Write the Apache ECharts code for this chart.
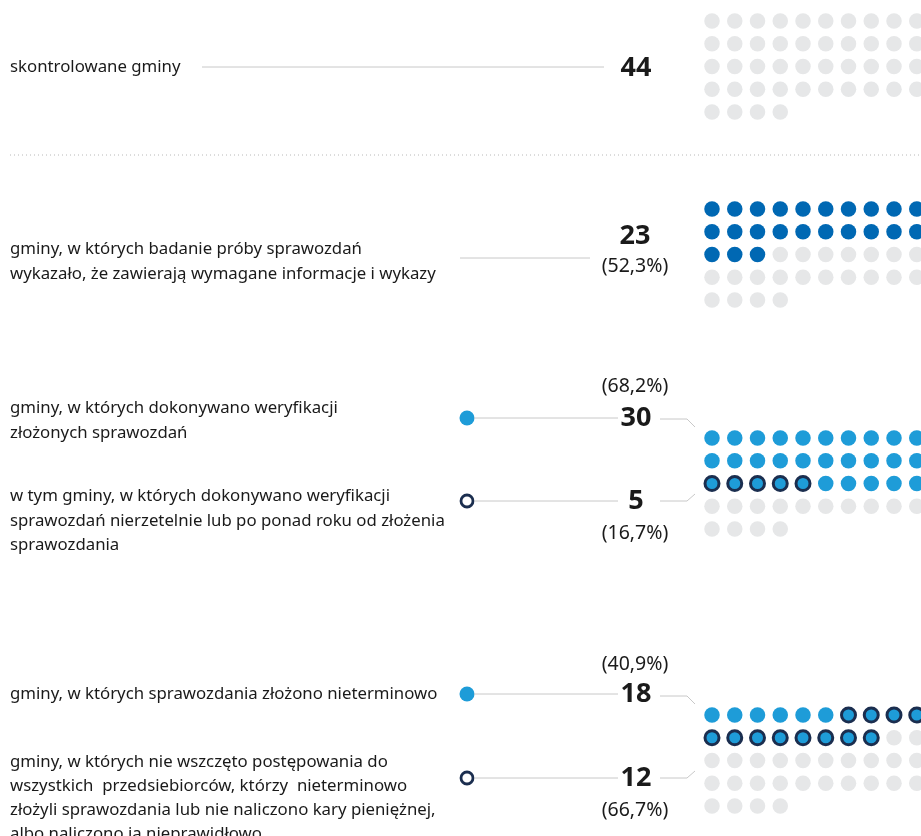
<!DOCTYPE html>
<html>
<head>
<meta charset="utf-8">
<script src="https://cdn.jsdelivr.net/npm/echarts@6/dist/echarts.min.js"></script>
<style>
  html, body { margin: 0; padding: 0; background: #fff; }
  #chart { width: 921px; height: 836px; }
</style>
</head>
<body>
<div id="chart"></div>
<script>
// dane
const total = 44;
const counts = [44, 23, 30, 18];          // wypełnione kropki w każdym panelu
const outlined = [0, 0, 5, 12];           // z tego kropki z obwódką
const outlineFrom = [0, 0, 20, 6];        // od której kropki zaczyna się obwódka
const percents = ['', '(52,3%)', '(68,2%)', '(40,9%)'];
const subPercents = ['', '', '(16,7%)', '(66,7%)'];
const fillColors = ['#e6e7e8', '#0068b3', '#1e9cd8', '#1e9cd8'];
const perRow = 10;

const FONT = '"Noto Sans", sans-serif';
const GRAY = '#e6e7e8', NAVY = '#1b2e4f', LINE = '#c8c8c8', TXT = '#1a1a1a';
const LBL = 16.8, PCT = 19.5, NUM = 27;

const chart = echarts.init(document.getElementById('chart'));

// położenie paneli (górny wiersz kropek)
const gridTops = [21, 209, 438, 715];
const step = 22.75;

const grids = [], xAxes = [], yAxes = [], series = [];
gridTops.forEach(function (top, p) {
  grids.push({ left: 712, top: top, width: step * 9, height: step * 4 });
  xAxes.push({ type: 'value', gridIndex: p, min: 0, max: 9, show: false });
  yAxes.push({ type: 'value', gridIndex: p, min: 0, max: 4, inverse: true, show: false });
  const plain = [], ring = [], empty = [];
  for (let i = 0; i < total; i++) {
    const pt = [i % perRow, Math.floor(i / perRow)];
    if (i >= counts[p]) empty.push(pt);
    else if (i >= outlineFrom[p] && i < outlineFrom[p] + outlined[p]) ring.push(pt);
    else plain.push(pt);
  }
  series.push({
    type: 'scatter', xAxisIndex: p, yAxisIndex: p, data: empty,
    symbolSize: 15.5, itemStyle: { color: GRAY, opacity: 1 }, silent: true
  });
  series.push({
    type: 'scatter', xAxisIndex: p, yAxisIndex: p, data: plain,
    symbolSize: 15.5, itemStyle: { color: fillColors[p], opacity: 1 }, silent: true
  });
  series.push({
    type: 'scatter', xAxisIndex: p, yAxisIndex: p, data: ring,
    symbolSize: 14, itemStyle: { color: fillColors[p], borderColor: NAVY, borderWidth: 3, opacity: 1 }, silent: true
  });
});

function txt(x, y, text, size, weight, align) {
  return {
    type: 'text', x: x, y: y, silent: true,
    style: {
      text: text, fill: TXT, font: (weight || 'normal') + ' ' + size + 'px ' + FONT,
      textAlign: align || 'left', textVerticalAlign: 'middle'
    }
  };
}
function ln(x1, y1, x2, y2, dash) {
  return {
    type: 'line', silent: true, shape: { x1: x1, y1: y1, x2: x2, y2: y2 },
    style: { stroke: dash ? '#b8b8b8' : LINE, lineWidth: 1, lineDash: dash || null }
  };
}
function poly(pts) {
  return { type: 'polyline', silent: true, shape: { points: pts }, style: { stroke: LINE, lineWidth: 1, fill: null } };
}
function dot(x, y, hollow) {
  return {
    type: 'circle', silent: true, shape: { cx: x, cy: y, r: hollow ? 6 : 7.5 },
    style: hollow ? { fill: '#fff', stroke: NAVY, lineWidth: 2.8 } : { fill: '#1e9cd8' }
  };
}

const g = [
  // panel 1
  txt(10, 67, 'skontrolowane gminy', LBL),
  ln(202, 67, 604, 67),
  txt(636, 68, String(counts[0]), NUM, 'bold', 'center'),
  ln(10, 155, 921, 155, [1, 3]),
  // panel 2
  txt(10, 249, 'gminy, w których badanie próby sprawozdań', LBL),
  txt(10, 274, 'wykazało, że zawierają wymagane informacje i wykazy', LBL),
  ln(460, 258, 590, 258),
  txt(635, 236, String(counts[1]), NUM, 'bold', 'center'),
  txt(635, 266, percents[1], PCT, 'normal', 'center'),
  // panel 3
  txt(10, 408, 'gminy, w których dokonywano weryfikacji', LBL),
  txt(10, 433, 'złożonych sprawozdań', LBL),
  txt(10, 496, 'w tym gminy, w których dokonywano weryfikacji', LBL),
  txt(10, 521, 'sprawozdań nierzetelnie lub po ponad roku od złożenia', LBL),
  txt(10, 545, 'sprawozdania', LBL),
  txt(635, 386, percents[2], PCT, 'normal', 'center'),
  dot(467, 418, false), ln(474, 418, 618, 418),
  txt(636, 418, String(counts[2]), NUM, 'bold', 'center'),
  poly([[660, 419], [687, 419], [695, 427]]),
  dot(467, 501, true), ln(474, 501, 618, 501),
  txt(636, 501, String(outlined[2]), NUM, 'bold', 'center'),
  poly([[660, 501], [687, 501], [695, 494]]),
  txt(635, 533, subPercents[2], PCT, 'normal', 'center'),
  // panel 4
  txt(10, 694, 'gminy, w których sprawozdania złożono nieterminowo', LBL),
  txt(10, 762, 'gminy, w których nie wszczęto postępowania do', LBL),
  txt(10, 786, 'wszystkich  przedsiebiorców, którzy  nieterminowo', LBL),
  txt(10, 810, 'złożyli sprawozdania lub nie naliczono kary pieniężnej,', LBL),
  txt(10, 834, 'albo naliczono ją nieprawidłowo', LBL),
  txt(635, 664, percents[3], PCT, 'normal', 'center'),
  dot(467, 694, false), ln(474, 694, 618, 694),
  txt(636, 694, String(counts[3]), NUM, 'bold', 'center'),
  poly([[660, 696], [687, 696], [695, 704]]),
  dot(467, 778, true), ln(474, 778, 618, 778),
  txt(636, 778, String(outlined[3]), NUM, 'bold', 'center'),
  poly([[660, 778], [687, 778], [695, 771]]),
  txt(635, 810, subPercents[3], PCT, 'normal', 'center')
];

chart.setOption({
  animation: false,
  grid: grids,
  xAxis: xAxes,
  yAxis: yAxes,
  series: series,
  graphic: { elements: g }
});
window.addEventListener('resize', function () { chart.resize(); });
</script>
</body>
</html>
